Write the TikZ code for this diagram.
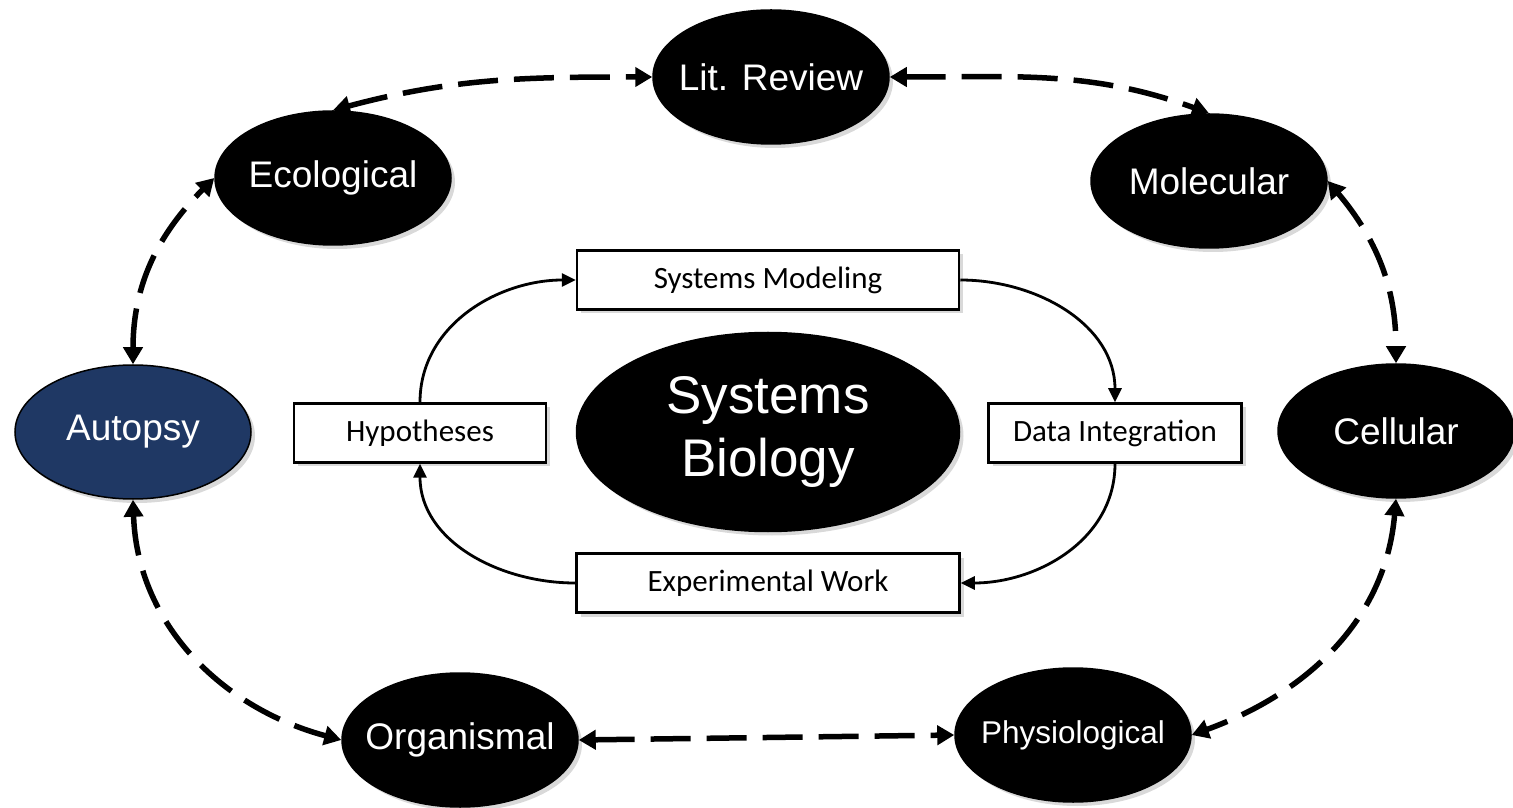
\documentclass[tikz,border=0pt]{standalone}
\usepackage{fontspec}
\setmainfont{Liberation Sans}
\newfontfamily\boxfont{Carlito}
\usetikzlibrary{arrows.meta, shapes.geometric, shadows}
\definecolor{autopsyblue}{RGB}{31,56,100}

\begin{document}
\begin{tikzpicture}[x=1pt,y=1pt,
  bubble/.style={ellipse, draw=black, fill=black, text=white, line width=1.5pt,
    minimum width=236pt, minimum height=134pt, inner xsep=-25pt, inner ysep=0pt,
    font=\fontsize{37}{40}\selectfont,
    drop shadow={shadow xshift=4pt, shadow yshift=-4pt, opacity=0.3}},
  taskbox/.style={rectangle, draw=black, fill=white, line width=2.5pt,
    minimum height=59pt, inner sep=0pt,
    font=\boxfont\fontsize{31}{34}\selectfont,
    drop shadow={shadow xshift=4pt, shadow yshift=-4pt, opacity=0.3}},
  linkarrow/.style={{Triangle[length=17pt,width=19pt]}-{Triangle[length=17pt,width=19pt]},
    line width=5.5pt, dash pattern=on 40pt off 16pt},
  cyclearrow/.style={-{Triangle[length=14pt,width=13pt]}, line width=2.8pt}]
  \useasboundingbox (0,0) rectangle (1513,807);
  % outer ring
  \node[bubble] (lit) at (771,730) {Lit. Review};
  \node[bubble] (eco) at (333,629) {Ecological};
  \node[bubble] (mol) at (1209,626) {Molecular};
  \node[bubble, fill=autopsyblue] (aut) at (133,375) {Autopsy};
  \node[bubble] (cel) at (1396,376) {Cellular};
  \node[bubble] (org) at (460,67) {Organismal};
  \node[bubble, font=\fontsize{31.5}{34}\selectfont] (phy) at (1073,72) {Physiological};
  % centre
  \node[bubble, minimum width=383pt, minimum height=199pt, align=center,
    font=\fontsize{53}{63}\selectfont] (sb) at (768,375) {Systems\\Biology};
  \node[taskbox, minimum width=382pt] (sm) at (768,527) {Systems Modeling};
  \node[taskbox, minimum width=252pt] (hyp) at (420,374) {Hypotheses};
  \node[taskbox, minimum width=253pt] (di) at (1115,374) {Data Integration};
  \node[taskbox, minimum width=383pt] (ew) at (768,224) {Experimental Work};
  % cycle
  \draw[cyclearrow] (hyp.north) to[out=90,in=180] (sm.west);
  \draw[cyclearrow] (sm.east) to[out=0,in=90] (di.north);
  \draw[cyclearrow] (di.south) to[out=-90,in=0] (ew.east);
  \draw[cyclearrow] (ew.west) to[out=180,in=-90] (hyp.south);
  % links
  \draw[linkarrow] (eco.north) to[out=15,in=180] (lit.west);
  \draw[linkarrow] (lit.east) to[out=0,in=160] (mol.north);
  \draw[linkarrow] (mol.east) to[out=-50,in=90] (cel.north);
  \draw[linkarrow] (cel.south) to[out=-95,in=20] (phy.east);
  \draw[linkarrow] (org.east) -- (phy.west);
  \draw[linkarrow] (aut.south) to[out=-88,in=165] (org.west);
  \draw[linkarrow] (aut.north) to[out=90,in=225] (eco.west);
\end{tikzpicture}
\end{document}
